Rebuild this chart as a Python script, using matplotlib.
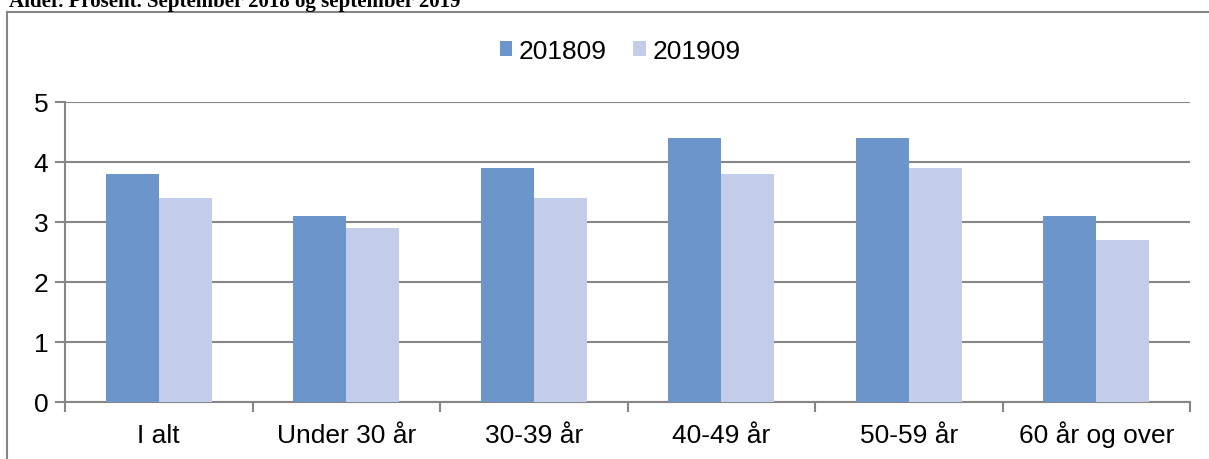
import matplotlib
matplotlib.use("Agg")
import matplotlib.pyplot as plt
from matplotlib.patches import Rectangle
import numpy as np

categories = ["I alt", "Under 30 år", "30-39 år", "40-49 år", "50-59 år", "60 år og over"]
series_names = ["201809", "201909"]
values_2018 = [3.8, 3.1, 3.9, 4.4, 4.4, 3.1]
values_2019 = [3.4, 2.9, 3.4, 3.8, 3.9, 2.7]
yticks = [0, 1, 2, 3, 4, 5]
title = "Alder. Prosent. September 2018 og september 2019"

colors = ["#6C95CB", "#C3CCE9"]
W, H = 1209, 460
fig = plt.figure(figsize=(W / 100, H / 100), dpi=100)
plt.rcParams["font.family"] = ["Liberation Sans", "DejaVu Sans"]

# outer chart border (extends past right/bottom edge)
fig.patches.append(Rectangle((7 / W, -0.1), 1.2, 1 - 13 / H + 0.1, transform=fig.transFigure,
                             fill=False, edgecolor="#868686", linewidth=1.5))
fig.text(9 / W, 1 - 7 / H, title, family="Liberation Serif", fontweight="bold",
         fontsize=15, va="baseline", ha="left")

left, right, top, bottom = 65, 1190, 103, 403
ax = fig.add_axes([left / W, 1 - bottom / H, (right - left) / W, (bottom - top) / H])

x = np.arange(len(categories))
bw = 0.283
ax.bar(x - bw / 2, values_2018, width=bw, color=colors[0], label=series_names[0], zorder=3)
ax.bar(x + bw / 2, values_2019, width=bw, color=colors[1], label=series_names[1], zorder=3)

ax.set_xlim(-0.5, len(categories) - 0.5)
ax.set_ylim(0, 5)
ax.set_yticks(yticks)
ax.set_yticklabels([str(t) for t in yticks], fontsize=19)
ax.yaxis.grid(True, color="#868686", linewidth=1.5, zorder=0)
ax.set_axisbelow(True)

ax.set_xticks(x)
ax.set_xticklabels(categories, fontsize=19, va="baseline")
ax.set_xticks(np.arange(-0.5, len(categories)), minor=True)
ax.tick_params(axis="x", which="major", length=0, pad=28.5)
ax.tick_params(axis="x", which="minor", length=7, width=1.5, color="#868686")
ax.tick_params(axis="y", length=7, width=1.5, color="#868686", pad=5)

for s in ["top", "right"]:
    ax.spines[s].set_visible(False)
for s in ["left", "bottom"]:
    ax.spines[s].set_color("#868686")
    ax.spines[s].set_linewidth(1.5)

leg = fig.legend(loc="center", bbox_to_anchor=(620 / W, 1 - 52 / H), ncol=2, frameon=False,
                 fontsize=19, handlelength=0.47, handleheight=0.47, handletextpad=0.25,
                 columnspacing=1.0)

fig.savefig("out.png", dpi=100)
